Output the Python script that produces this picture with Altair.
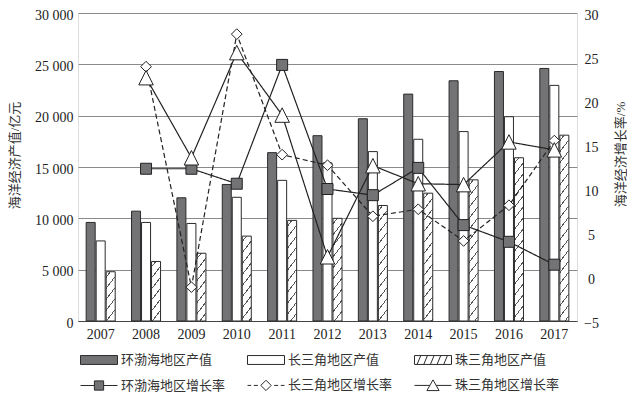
import math
import altair as alt
import pandas as pd

# ---------------- data ----------------
years = ['2007', '2008', '2009', '2010', '2011', '2012', '2013', '2014', '2015', '2016', '2017']
regions = ['环渤海地区产值', '长三角地区产值', '珠三角地区产值']
bohai_value = [9600, 10700, 12000, 13300, 16400, 18050, 19700, 22100, 23400, 24300, 24600]
yrd_value = [7800, 9600, 9500, 12050, 13700, 15400, 16500, 17700, 18450, 19900, 22950]
prd_value = [4800, 5800, 6600, 8270, 9800, 10000, 11250, 12450, 13750, 15900, 18100]

series = ['环渤海地区增长率', '长三角地区增长率', '珠三角地区增长率']
bohai_rate = [None, 12.3, 12.3, 10.6, 24.1, 10.0, 9.3, 12.4, 5.9, 4.0, 1.4]
yrd_rate = [None, 23.9, -1.15, 27.6, 13.9, 12.7, 6.9, 7.7, 4.1, 8.15, 15.5]
prd_rate = [None, 22.65, 13.55, 25.5, 18.4, 2.3, 12.65, 10.6, 10.5, 15.35, 14.45]

left_ticks = [0, 5000, 10000, 15000, 20000, 25000, 30000]
right_ticks = [-5, 0, 5, 10, 15, 20, 25, 30]

# ---------------- tables ----------------
bar_rows = []
for reg, vals in zip(regions, [bohai_value, yrd_value, prd_value]):
    for yr, v in zip(years, vals):
        bar_rows.append({'year': yr, 'region': reg, 'value': v})
df_bar = pd.DataFrame(bar_rows)

rate_rows = []
for s, vals in zip(series, [bohai_rate, yrd_rate, prd_rate]):
    for yr, v in zip(years, vals):
        rate_rows.append({'year': yr, 'series': s, 'rate': v})
df_rate = pd.DataFrame(rate_rows)

# ---------------- style ----------------
W, H = 499, 308
SERIF = 'Liberation Serif'
CJK = 'Liberation Serif, Noto Sans CJK SC'
DARK = '#737376'
EDGE = '#2b2b2b'
HATCH = '#555555'

x_enc = alt.X('year:N', sort=years,
              scale=alt.Scale(domain=years, paddingInner=0.36, paddingOuter=0.18),
              axis=alt.Axis(title=None, labelFont=SERIF, labelFontSize=14, labelColor='#222',
                            labelAngle=0, labelPadding=6, ticks=False, grid=False,
                            domainColor='#444', domainWidth=1))
xoff_enc = alt.XOffset('region:N', sort=regions,
                       scale=alt.Scale(domain=regions, paddingInner=0.1, paddingOuter=0))
y_bar = alt.Y('value:Q',
              scale=alt.Scale(domain=[0, 30000], nice=False),
              axis=alt.Axis(orient='left', values=left_ticks,
                            labelExpr="replace(format(datum.value, ','), ',', ' ')",
                            labelFont=SERIF, labelFontSize=14, labelColor='#222', labelPadding=5,
                            labelOffset=2,
                            title='海洋经济产值/亿元', titleFont=CJK, titleFontSize=13,
                            titleFontWeight='normal', titleColor='#333',
                            titleX=-64, titleY=142, titleBaseline='middle',
                            grid=True, gridColor='#8a8a8a', gridWidth=1, domain=False, ticks=False))
y_rate = alt.Y('rate:Q',
               scale=alt.Scale(domain=[-5, 30], nice=False, zero=False),
               axis=alt.Axis(orient='right', values=right_ticks,
                             labelFont=SERIF, labelFontSize=14, labelColor='#222',
                             labelAlign='center', labelPadding=14, labelOffset=2,
                             title='海洋经济增长率/%', titleFont=CJK, titleFontSize=13,
                             titleFontWeight='normal', titleColor='#333', titleAngle=270,
                             titleX=43, titleY=141, titleBaseline='middle',
                             grid=False, domain=False, ticks=False))


def hatch_fill(value):
    w = 9.0
    h = value / 30000.0 * H
    k, sv, lw = 1.3, 11.0, 0.9
    lam = (k * w + h) / (k * k * w * w + h * h)
    a, b = lam * k * w, lam * h
    n = (k * w + h) / sv
    D = (k * w + h) / math.sqrt(k * k + 1)
    d = lw / 2 / D
    stops = [{'offset': 0, 'color': '#ffffff'}]
    j = 0
    while (j + 0.5) / n < 1:
        t = (j + 0.5) / n
        lo, hi = max(0.0, t - d), min(1.0, t + d)
        stops += [{'offset': round(lo, 5), 'color': '#ffffff'},
                  {'offset': round(lo, 5), 'color': HATCH},
                  {'offset': round(hi, 5), 'color': HATCH},
                  {'offset': round(hi, 5), 'color': '#ffffff'}]
        j += 1
    stops.append({'offset': 1, 'color': '#ffffff'})
    return {'gradient': 'linear', 'x1': 0, 'y1': 0, 'x2': round(a, 5), 'y2': round(b, 5), 'stops': stops}


# legend symbol paths (unit box -1..1)
P_RECT = 'M-1,-0.24H1V0.24H-1Z'
P_HATCH = (P_RECT + ' M-0.86,0.24L-0.66,-0.24 M-0.5,0.24L-0.3,-0.24 M-0.14,0.24L0.06,-0.24'
           ' M0.22,0.24L0.42,-0.24 M0.58,0.24L0.78,-0.24')
P_L1 = 'M-1,0H-0.25M0.25,0H1M-0.25,-0.25H0.25V0.25H-0.25Z'
P_L2 = 'M-1,0H-0.8M-0.66,0H-0.44M0.44,0H0.66M0.8,0H1M-0.28,0L0,-0.28L0.28,0L0,0.28Z'
P_L3 = 'M-1,0H-0.17M0.17,0H1M0,-0.3L0.33,0.28L-0.33,0.28Z'


def legend(ly, cp):
    return alt.Legend(orient='none', legendX=2, legendY=ly, direction='horizontal', columns=3,
                      title=None, symbolSize=1369, symbolStrokeColor=EDGE, symbolStrokeWidth=1,
                      symbolOpacity=1, labelFont=CJK, labelFontSize=13, labelColor='#333',
                      labelOffset=3, columnPadding=cp, padding=0)


bar_fills = [DARK, '#ffffff']
bar_layers = []
for reg, fc in zip(regions[:2], bar_fills):
    bar_layers.append(
        alt.Chart(df_bar).transform_filter(alt.datum.region == reg).mark_bar(
            stroke=EDGE, strokeWidth=1, fill=fc
        ).encode(x=x_enc, xOffset=xoff_enc, y=y_bar)
    )

hatch_layers = []
for yr, v in zip(years, prd_value):
    hatch_layers.append(
        alt.Chart(df_bar).transform_filter(
            (alt.datum.region == regions[2]) & (alt.datum.year == yr)
        ).mark_bar(stroke=EDGE, strokeWidth=1, fill=hatch_fill(v)).encode(
            x=x_enc, xOffset=xoff_enc, y=y_bar
        )
    )

LEG1 = legend(328, 32)
bar_legend = alt.Chart(df_bar).mark_point(
    filled=True, opacity=0, strokeWidth=1
).encode(
    x=x_enc, y=y_bar,
    fill=alt.Fill('region:N', scale=alt.Scale(domain=regions, range=[DARK, '#ffffff', '#ffffff']),
                  legend=LEG1),
    stroke=alt.Stroke('region:N', scale=alt.Scale(domain=regions, range=[EDGE, EDGE, EDGE]),
                      legend=LEG1),
    shape=alt.Shape('region:N', scale=alt.Scale(domain=regions, range=[P_RECT, P_RECT, P_HATCH]),
                    legend=LEG1)
)

bar_layer = alt.layer(*bar_layers, *hatch_layers, bar_legend)

lines = alt.Chart(df_rate).mark_line(color='#222222', strokeWidth=1.2).encode(
    x=x_enc, y=y_rate, detail='series:N',
    strokeDash=alt.StrokeDash('series:N', scale=alt.Scale(domain=series, range=[[1, 0], [5, 3], [1, 0]]),
                              legend=None)
)

pt_shapes = ['square', 'diamond', 'M0,-1L1,1L-1,1Z']
pt_sizes = [121, 115, 210]
pt_fills = [DARK, '#ffffff', '#ffffff']
pt_layers = []
for s, sh, sz, fc in zip(series, pt_shapes, pt_sizes, pt_fills):
    pt_layers.append(
        alt.Chart(df_rate).transform_filter(alt.datum.series == s).mark_point(
            shape=sh, size=sz, filled=True, fill=fc, stroke='#222222', strokeWidth=1, opacity=1
        ).encode(x=x_enc, y=y_rate)
    )

LEG2 = legend(353, 19)
rate_legend = alt.Chart(df_rate).mark_point(
    filled=True, opacity=0, strokeWidth=1
).encode(
    x=x_enc, y=y_rate,
    fill=alt.Fill('series:N', scale=alt.Scale(domain=series, range=[DARK, '#ffffff', '#ffffff']),
                  legend=LEG2),
    stroke=alt.Stroke('series:N', scale=alt.Scale(domain=series, range=[EDGE, EDGE, EDGE]),
                      legend=LEG2),
    shape=alt.Shape('series:N', scale=alt.Scale(domain=series, range=[P_L1, P_L2, P_L3]),
                    legend=LEG2)
)

rate_layer = alt.layer(lines, *pt_layers, rate_legend)

chart = alt.layer(bar_layer, rate_layer).resolve_scale(
    y='independent', fill='independent', shape='independent', stroke='independent'
).properties(
    width=W, height=H, padding={'left': 0, 'top': 0, 'right': 0, 'bottom': 0}
).configure_view(stroke=None).configure(background='#ffffff')

chart.save('out.html', embed_options={'renderer': 'svg', 'actions': False})
